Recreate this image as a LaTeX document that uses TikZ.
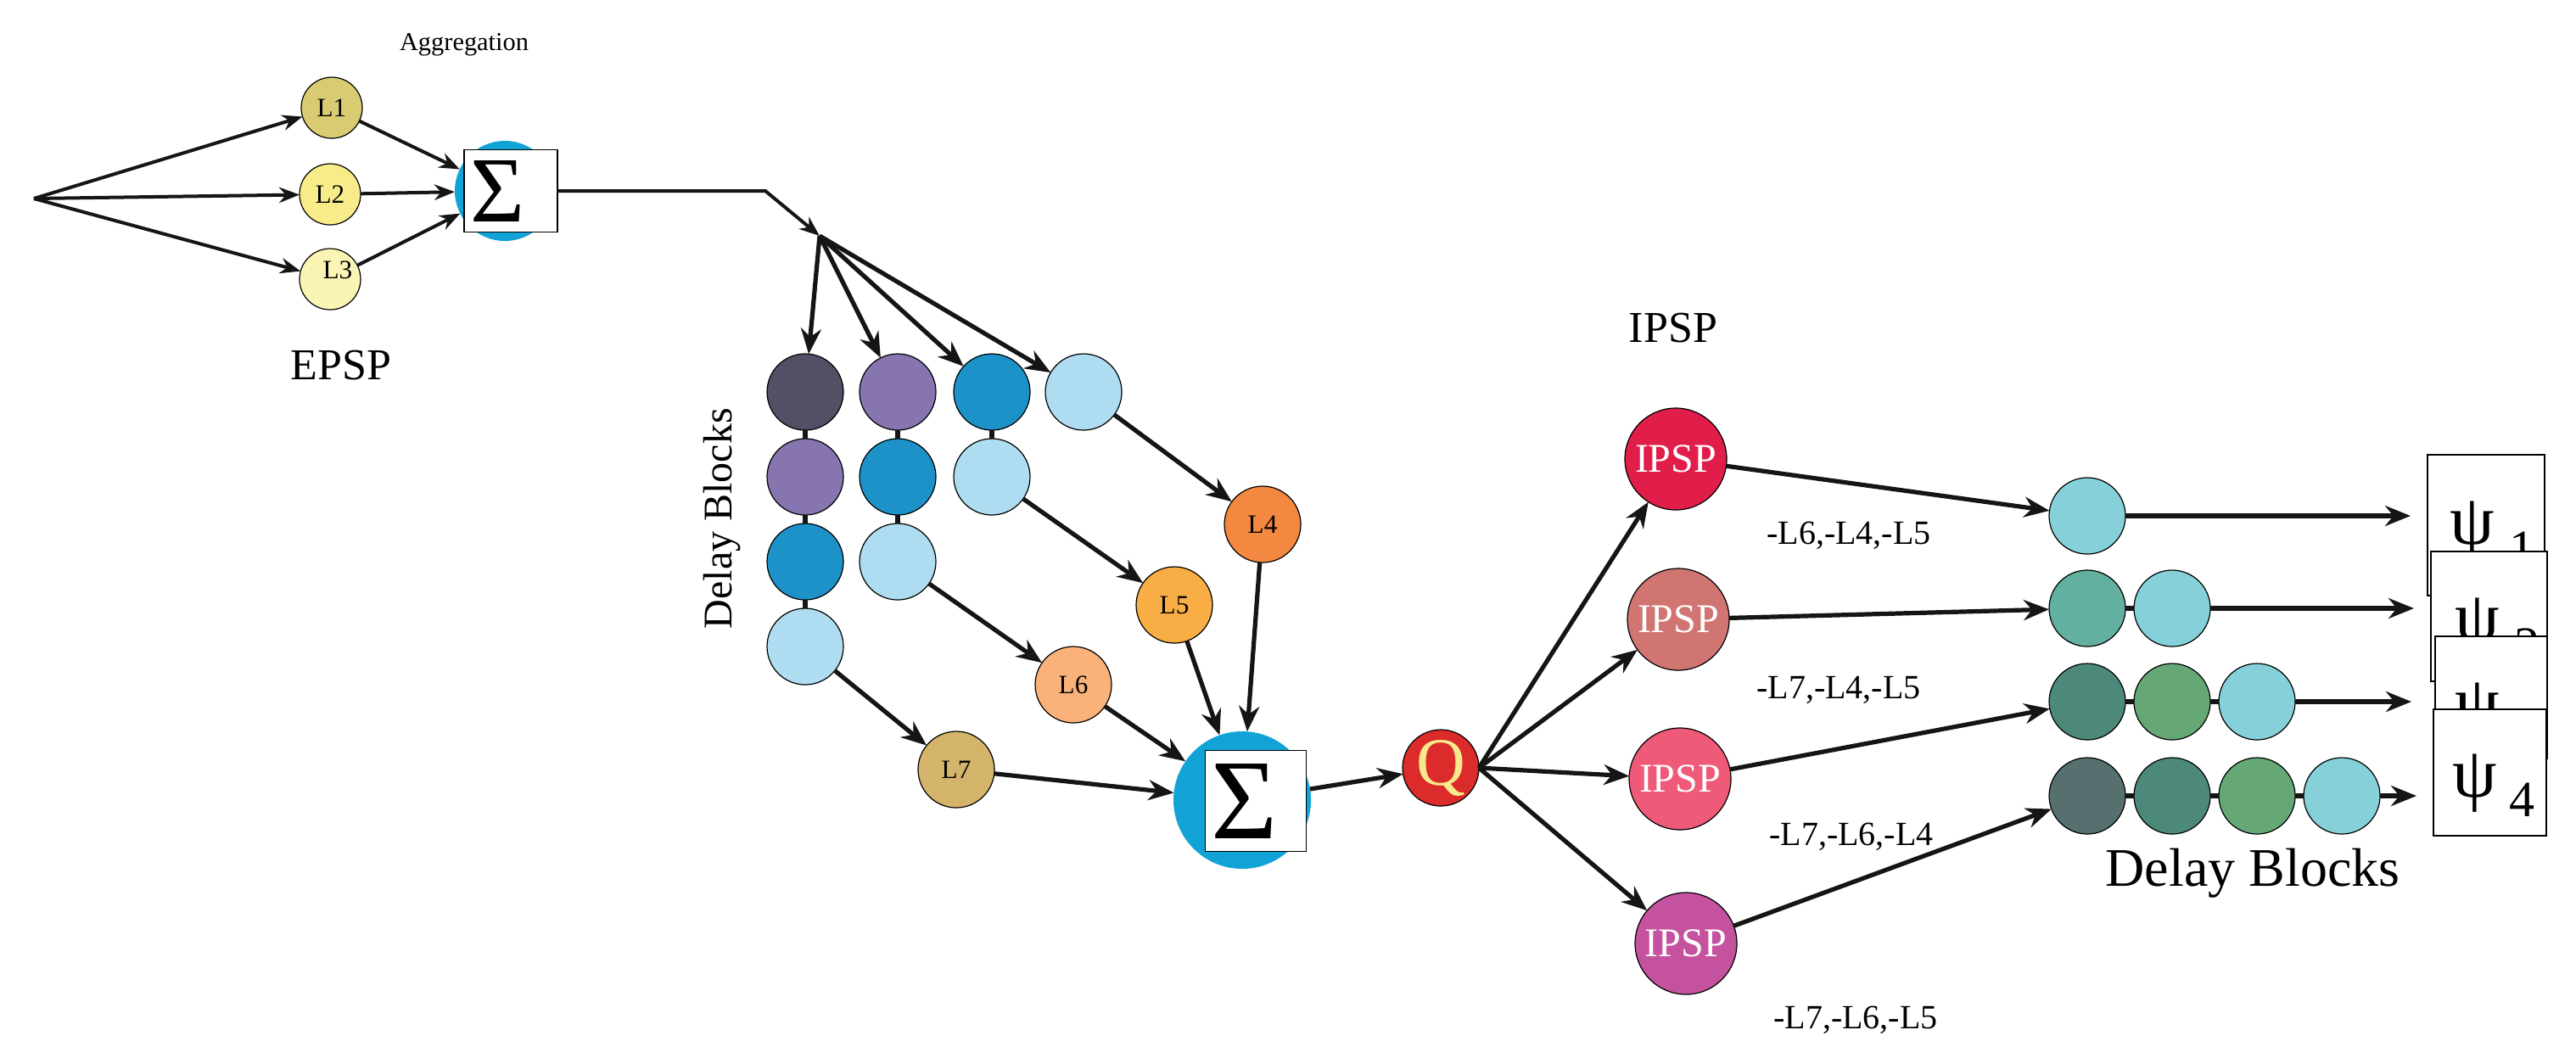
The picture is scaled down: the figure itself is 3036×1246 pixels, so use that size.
\documentclass[tikz,border=0pt]{standalone}
\usepackage{fontspec}
\setmainfont{Liberation Serif}
\usetikzlibrary{arrows.meta}
\definecolor{cL1}{HTML}{D8CB72}
\definecolor{cL2}{HTML}{F8EC8A}
\definecolor{cL3}{HTML}{FBF5B5}
\definecolor{cSig}{HTML}{12A3D6}
\definecolor{cA}{HTML}{554F66}
\definecolor{cB}{HTML}{8775B0}
\definecolor{cC}{HTML}{1C92C9}
\definecolor{cD}{HTML}{AEDCF0}
\definecolor{cL4}{HTML}{F38840}
\definecolor{cL5}{HTML}{F8AD45}
\definecolor{cL6}{HTML}{FAB27A}
\definecolor{cL7}{HTML}{D4B46B}
\definecolor{cQ}{HTML}{DC2B2B}
\definecolor{cQt}{HTML}{F8EA8C}
\definecolor{cI1}{HTML}{E11E4A}
\definecolor{cI2}{HTML}{D07572}
\definecolor{cI3}{HTML}{EE5A77}
\definecolor{cI4}{HTML}{C4529E}
\definecolor{cR1}{HTML}{86D1D9}
\definecolor{cR2}{HTML}{62B0A0}
\definecolor{cR3}{HTML}{4D897A}
\definecolor{cR4}{HTML}{65A876}
\definecolor{cR5}{HTML}{56706F}
\definecolor{linec}{HTML}{151515}
\begin{document}
\begin{tikzpicture}[x=0.25pt,y=-0.25pt,
  every node/.style={inner sep=0pt,outer sep=0pt},
  ball/.style={circle,draw=black,line width=0.3pt,minimum size=22.5pt},
  smallball/.style={circle,draw=black,line width=0.3pt,minimum size=18pt},
  arr/.style={-{Stealth[length=7.5pt,width=6pt]},line width=1.3pt,draw=linec},
  sarr/.style={-{Stealth[length=6pt,width=4.6pt]},line width=1pt,draw=linec},
  link/.style={line width=1.6pt,draw=linec},
  lab/.style={font=\fontsize{7.8}{8}\selectfont},
  big/.style={font=\fontsize{13}{14}\selectfont},
  cons/.style={font=\fontsize{10}{11}\selectfont,anchor=base},
  ipsp/.style={circle,draw=black,line width=0.3pt,minimum size=30pt,text=white,font=\fontsize{12}{13}\selectfont},
  psibox/.style={draw=black,line width=0.4pt,fill=white,rectangle},
  psit/.style={font=\fontsize{21}{22}\selectfont},
  psis/.style={font=\fontsize{15}{15}\selectfont},
]
\useasboundingbox (0,0) rectangle (3036,1246);

% ---------- EPSP part ----------
\coordinate (src) at (40,234);
\node[smallball,fill=cL1,lab] (L1) at (391,127) {L1};
\node[smallball,fill=cL2,lab] (L2) at (389,229) {L2};
\node[smallball,fill=cL3] (L3) at (389,329) {};
\node[lab] (L3t) at (398,318) {L3};
\node[circle,fill=cSig,minimum size=29.5pt] (S1) at (595,225) {};
\node[psibox,minimum width=27.5pt,minimum height=24.25pt] (S1box) at (602,225) {};
\node[font=\fontsize{27.5}{28}\selectfont] (S1t) at (587,225) {Σ};
\node[font=\fontsize{7.6}{8}\selectfont,anchor=base] (agg) at (547,59) {Aggregation};
\node[big,anchor=base] (epsp) at (402,447) {EPSP};

\draw[sarr] (src) -- (L1);
\draw[sarr] (src) -- (L2);
\draw[sarr] (src) -- (L3);
\draw[sarr] (L1) -- (S1);
\draw[sarr] (L2) -- (S1);
\draw[sarr] (L3) -- (S1);

\coordinate (corner) at (902,225);
\coordinate (fan) at (966,278);
\draw[sarr] (S1box.east) -- (corner) -- (fan);

% ---------- delay blocks (left) ----------
\node[font=\fontsize{12}{13}\selectfont,rotate=90,anchor=base] (dbl) at (862,611) {Delay Blocks};
\node[ball,fill=cA] (d11) at (949,462) {};
\node[ball,fill=cB] (d12) at (949,562) {};
\node[ball,fill=cC] (d13) at (949,662) {};
\node[ball,fill=cD] (d14) at (949,762) {};
\node[ball,fill=cB] (d21) at (1058,462) {};
\node[ball,fill=cC] (d22) at (1058,562) {};
\node[ball,fill=cD] (d23) at (1058,662) {};
\node[ball,fill=cC] (d31) at (1169,462) {};
\node[ball,fill=cD] (d32) at (1169,562) {};
\node[ball,fill=cD] (d41) at (1277,462) {};
\draw[link] (d11) -- (d12);
\draw[link] (d12) -- (d13);
\draw[link] (d13) -- (d14);
\draw[link] (d21) -- (d22);
\draw[link] (d22) -- (d23);
\draw[link] (d31) -- (d32);
\draw[arr] (fan) -- (d11);
\draw[arr] (fan) -- (d21);
\draw[arr] (fan) -- (d31);
\draw[arr] (fan) -- (d41);

\node[ball,fill=cL4,lab] (L4) at (1488,618) {L4};
\node[ball,fill=cL5,lab] (L5) at (1384,713) {L5};
\node[ball,fill=cL6,lab] (L6) at (1265,807) {L6};
\node[ball,fill=cL7,lab] (L7) at (1127,907) {L7};
\draw[arr] (d41) -- (L4);
\draw[arr] (d32) -- (L5);
\draw[arr] (d23) -- (L6);
\draw[arr] (d14) -- (L7);

\node[circle,fill=cSig,minimum size=40.5pt] (S2) at (1464,943) {};
\node[psibox,minimum width=29.75pt,minimum height=29.75pt] (S2box) at (1480,944) {};
\node[font=\fontsize{33.6}{34}\selectfont] (S2t) at (1467,944) {Σ};
\draw[arr] (L4) -- (S2);
\draw[arr] (L5) -- (S2);
\draw[arr] (L6) -- (S2);
\draw[arr] (L7) -- (S2);

% ---------- Q and IPSP ----------
\node[ball,fill=cQ,text=cQt,font=\fontsize{20}{20}\selectfont] (Q) at (1698,905) {Q};
\draw[arr] (S2) -- (Q);
\node[big,anchor=base] (ipsplab) at (1972,403) {IPSP};
\node[ipsp,fill=cI1] (I1) at (1975,541) {IPSP};
\node[ipsp,fill=cI2] (I2) at (1978,730) {IPSP};
\node[ipsp,fill=cI3] (I3) at (1980,918) {IPSP};
\node[ipsp,fill=cI4] (I4) at (1987,1112) {IPSP};
\draw[arr] (Q.east) -- (I1);
\draw[arr] (Q.east) -- (I2);
\draw[arr] (Q.east) -- (I3);
\draw[arr] (Q.east) -- (I4);

\node[cons] (c1) at (2179,641) {-L6,-L4,-L5};
\node[cons] (c2) at (2167,823) {-L7,-L4,-L5};
\node[cons] (c3) at (2182,996) {-L7,-L6,-L4};
\node[cons] (c4) at (2187,1212) {-L7,-L6,-L5};

% ---------- delay blocks (right) ----------
\node[ball,fill=cR1] (r1a) at (2460,608) {};
\node[ball,fill=cR2] (r2a) at (2460,717) {};
\node[ball,fill=cR1] (r2b) at (2560,717) {};
\node[ball,fill=cR3] (r3a) at (2460,827) {};
\node[ball,fill=cR4] (r3b) at (2560,827) {};
\node[ball,fill=cR1] (r3c) at (2660,827) {};
\node[ball,fill=cR5] (r4a) at (2460,938) {};
\node[ball,fill=cR3] (r4b) at (2560,938) {};
\node[ball,fill=cR4] (r4c) at (2660,938) {};
\node[ball,fill=cR1] (r4d) at (2760,938) {};
\draw[link] (r2a) -- (r2b);
\draw[link] (r3a) -- (r3b);
\draw[link] (r3b) -- (r3c);
\draw[link] (r4a) -- (r4b);
\draw[link] (r4b) -- (r4c);
\draw[link] (r4c) -- (r4d);
\draw[arr] (I1) -- (r1a);
\draw[arr] (I2) -- (r2a);
\draw[arr] (I3) -- (r3a);
\draw[arr] (I4) -- (r4a);
\node[font=\fontsize{16}{17}\selectfont,anchor=base] (dbr) at (2655,1044) {Delay Blocks};

% ---------- psi boxes ----------
\node[psibox,minimum width=34.5pt,minimum height=41.5pt] (psi1) at (2930,619) {};
\node[psit] (p1t) at (2914,625) {ψ};
\node[psis] (p1s) at (2972,647) {1};
\node[psibox,minimum width=34.25pt,minimum height=38.25pt] (psi2) at (2933.5,726.5) {};
\node[psit] (p2t) at (2920,739) {ψ};
\node[psis] (p2s) at (2978,761) {2};
\node[psibox,minimum width=33pt,minimum height=36pt] (psi3) at (2936,822) {};
\node[psit] (p3t) at (2920,839) {ψ};
\node[psis] (p3s) at (2978,861) {3};
\node[psibox,minimum width=33.25pt,minimum height=37.25pt] (psi4) at (2934.5,910.5) {};
\node[psit] (p4t) at (2917,923) {ψ};
\node[psis] (p4s) at (2972,943) {4};

\draw[arr,shorten >=5pt] (r1a) -- (r1a -| psi1.west);
\draw[arr,shorten >=5pt] (r2b) -- (r2b -| psi2.west);
\draw[arr,shorten >=7pt] (r3c) -- (r3c -| psi3.west);
\draw[arr,shorten >=5pt] (r4d) -- (r4d -| psi4.west);
\end{tikzpicture}
\end{document}
